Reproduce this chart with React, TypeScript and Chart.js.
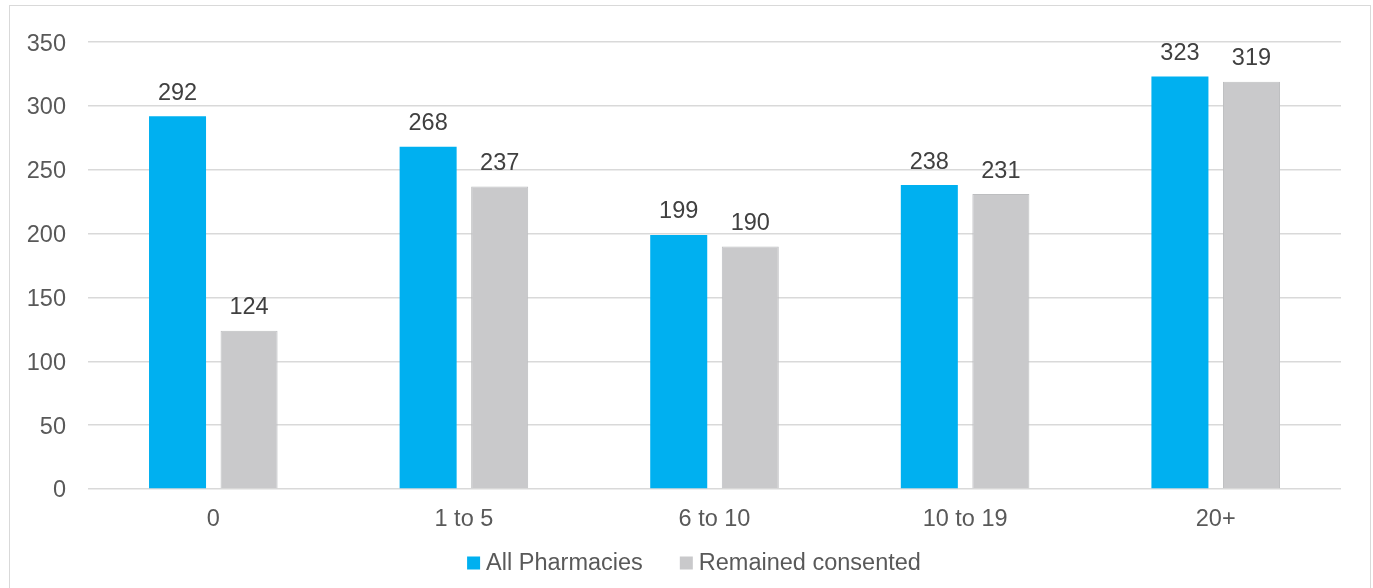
import React, { useEffect, useRef } from "react";
import { Chart, registerables } from "chart.js";

Chart.register(...registerables);

const categories = ["0", "1 to 5", "6 to 10", "10 to 19", "20+"];
const allPharmacies = [292, 268, 199, 238, 323];
const remainedConsented = [124, 237, 190, 231, 319];
const seriesNames = ["All Pharmacies", "Remained consented"];
const yTicks = [0, 50, 100, 150, 200, 250, 300, 350];

const FONT = "'Liberation Sans', Arial, sans-serif";
const FONT_SIZE = 23.5;
const BLUE = "#00B0F0";
const GREY = "#C9C9CB";

// Writes each bar's value centred above it
const valueLabels = {
  id: "valueLabels",
  afterDatasetsDraw(chart: any) {
    const ctx = chart.ctx;
    ctx.save();
    ctx.font = `${FONT_SIZE}px ${FONT}`;
    ctx.fillStyle = "#404040";
    ctx.textAlign = "center";
    ctx.textBaseline = "middle";
    chart.data.datasets.forEach((ds: any, di: number) => {
      const meta = chart.getDatasetMeta(di);
      meta.data.forEach((bar: any, i: number) => {
        ctx.fillText(String(ds.data[i]), bar.x, bar.y - 23);
      });
    });
    ctx.restore();
  },
};

// Compact legend: square swatch followed closely by its label
const swatchLegend = {
  id: "swatchLegend",
  afterDraw(chart: any) {
    const ctx = chart.ctx;
    const box = 13;
    const gap = 6;
    const itemGap = 37;
    ctx.save();
    ctx.font = `${FONT_SIZE}px ${FONT}`;
    ctx.textBaseline = "middle";
    ctx.textAlign = "left";
    const items = chart.data.datasets.map((ds: any) => ({
      label: ds.label,
      color: ds.backgroundColor,
      w: box + gap + ctx.measureText(ds.label).width,
    }));
    const total =
      items.reduce((s: number, it: any) => s + it.w, 0) + itemGap * (items.length - 1);
    let x = chart.width / 2 + 4 - total / 2;
    const y = chart.height - 25;
    items.forEach((it: any) => {
      ctx.fillStyle = it.color;
      ctx.fillRect(x, y - box / 2, box, box);
      ctx.fillStyle = "#595959";
      ctx.fillText(it.label, x + box + gap, y + 1);
      x += it.w + itemGap;
    });
    ctx.restore();
  },
};

export default function App() {
  const canvasRef = useRef<HTMLCanvasElement | null>(null);

  useEffect(() => {
    if (!canvasRef.current) return;
    const chart = new Chart(canvasRef.current, {
      type: "bar",
      data: {
        labels: categories,
        datasets: [
          {
            label: seriesNames[0],
            data: allPharmacies,
            backgroundColor: BLUE,
            borderWidth: 0,
            barPercentage: 0.797,
            categoryPercentage: 0.571,
          },
          {
            label: seriesNames[1],
            data: remainedConsented,
            backgroundColor: GREY,
            borderColor: "#BDBEC0",
            borderWidth: 1,
            barPercentage: 0.797,
            categoryPercentage: 0.571,
          },
        ],
      },
      options: {
        animation: false,
        responsive: false,
        maintainAspectRatio: false,
        layout: { padding: { left: 0, right: 29, top: 36, bottom: 59 } },
        plugins: {
          legend: { display: false },
          tooltip: { enabled: false },
          title: { display: false },
        },
        scales: {
          x: {
            grid: { display: false, drawTicks: false },
            border: { display: false },
            ticks: {
              color: "#595959",
              font: { family: FONT, size: FONT_SIZE },
              padding: 16,
            },
            afterFit(scale: any) {
              scale.height = 40;
            },
          },
          y: {
            min: 0,
            max: yTicks[yTicks.length - 1],
            afterBuildTicks(scale: any) {
              scale.ticks = yTicks.map((v) => ({ value: v }));
            },
            grid: { color: "#D9D9D9", lineWidth: 1.5, drawTicks: false },
            border: { display: false },
            ticks: {
              color: "#595959",
              font: { family: FONT, size: FONT_SIZE },
              padding: 22,
              labelOffset: 2,
            },
            afterFit(scale: any) {
              scale.width = 78;
            },
          },
        },
      },
      plugins: [valueLabels, swatchLegend],
    });
    return () => chart.destroy();
  }, []);

  return (
    <>
      <style>{"body{margin:0;overflow:hidden;background:#fff}"}</style>
      <div
        style={{
          position: "absolute",
          left: 9,
          top: 5,
          width: 1362,
          height: 640,
          border: "1px solid #D9D9D9",
          boxSizing: "border-box",
          background: "#fff",
        }}
      >
        <canvas
          ref={canvasRef}
          width={1360}
          height={582}
          style={{ display: "block", width: 1360, height: 582 }}
        />
      </div>
    </>
  );
}
